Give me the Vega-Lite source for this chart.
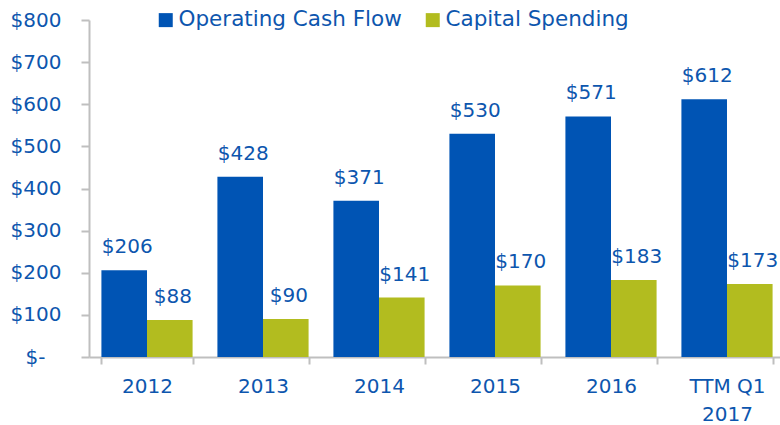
{
  "$schema": "https://vega.github.io/schema/vega-lite/v6.json",
  "width": 696,
  "height": 337,
  "autosize": {"type": "none"},
  "padding": {"left": 89, "top": 20, "right": 0, "bottom": 68},
  "background": "white",
  "config": {"view": {"stroke": null}, "font": "DejaVu Sans"},
  "data": {
    "values": [
      {"period": "2012", "series": "Operating Cash Flow", "value": 206},
      {"period": "2012", "series": "Capital Spending", "value": 88},
      {"period": "2013", "series": "Operating Cash Flow", "value": 428},
      {"period": "2013", "series": "Capital Spending", "value": 90},
      {"period": "2014", "series": "Operating Cash Flow", "value": 371},
      {"period": "2014", "series": "Capital Spending", "value": 141},
      {"period": "2015", "series": "Operating Cash Flow", "value": 530},
      {"period": "2015", "series": "Capital Spending", "value": 170},
      {"period": "2016", "series": "Operating Cash Flow", "value": 571},
      {"period": "2016", "series": "Capital Spending", "value": 183},
      {"period": "TTM Q1 2017", "series": "Operating Cash Flow", "value": 612},
      {"period": "TTM Q1 2017", "series": "Capital Spending", "value": 173}
    ]
  },
  "encoding": {
    "x": {
      "field": "period",
      "type": "nominal",
      "sort": null,
      "scale": {"paddingInner": 0.214, "paddingOuter": 0.107},
      "axis": {
        "title": null,
        "tickBand": "extent",
        "labelAngle": 0,
        "labelFontSize": 20,
        "labelColor": "#0D56AE",
        "labelPadding": 12,
        "tickSize": 7,
        "domainColor": "#BFBFBF",
        "tickColor": "#BFBFBF",
        "domainWidth": 2,
        "tickWidth": 2,
        "labelLineHeight": 28,
        "labelExpr": "datum.value == 'TTM Q1 2017' ? ['TTM Q1', '2017'] : datum.value"
      }
    },
    "xOffset": {
      "field": "series",
      "type": "nominal",
      "sort": ["Operating Cash Flow", "Capital Spending"],
      "scale": {"paddingInner": 0, "paddingOuter": 0}
    },
    "y": {
      "field": "value",
      "type": "quantitative",
      "scale": {"domain": [0, 800], "nice": false},
      "axis": {
        "title": null,
        "grid": false,
        "values": [0, 100, 200, 300, 400, 500, 600, 700, 800],
        "labelExpr": "datum.value == 0 ? '$-' : '$' + datum.value",
        "labelFontSize": 20,
        "labelColor": "#0D56AE",
        "tickSize": 8,
        "labelPadding": {"condition": {"test": "datum.value == 0", "value": 36}, "value": 20},
        "domainColor": "#BFBFBF",
        "tickColor": "#BFBFBF",
        "domainWidth": 2,
        "tickWidth": 2,
        "labelBaseline": "middle"
      }
    }
  },
  "layer": [
    {
      "mark": {"type": "bar"},
      "encoding": {
        "color": {
          "field": "series",
          "type": "nominal",
          "scale": {
            "domain": ["Operating Cash Flow", "Capital Spending"],
            "range": ["#0054B4", "#B2BC1F"]
          },
          "legend": {
            "title": null,
            "orient": "none",
            "direction": "horizontal",
            "legendX": 66,
            "legendY": -11,
            "symbolType": "square",
            "symbolSize": 196,
            "symbolStrokeWidth": 0,
            "symbolOpacity": 1,
            "labelFontSize": 21.5,
            "labelColor": "#0D56AE",
            "labelOffset": 2,
            "labelLimit": 400,
            "columnPadding": 20,
            "padding": 0
          }
        }
      }
    },
    {
      "mark": {"type": "text", "dy": -17, "dx": 3, "baseline": "alphabetic", "fontSize": 20, "color": "#0D56AE"},
      "encoding": {
        "text": {"field": "value", "type": "quantitative", "format": "$d"}
      }
    }
  ]
}
